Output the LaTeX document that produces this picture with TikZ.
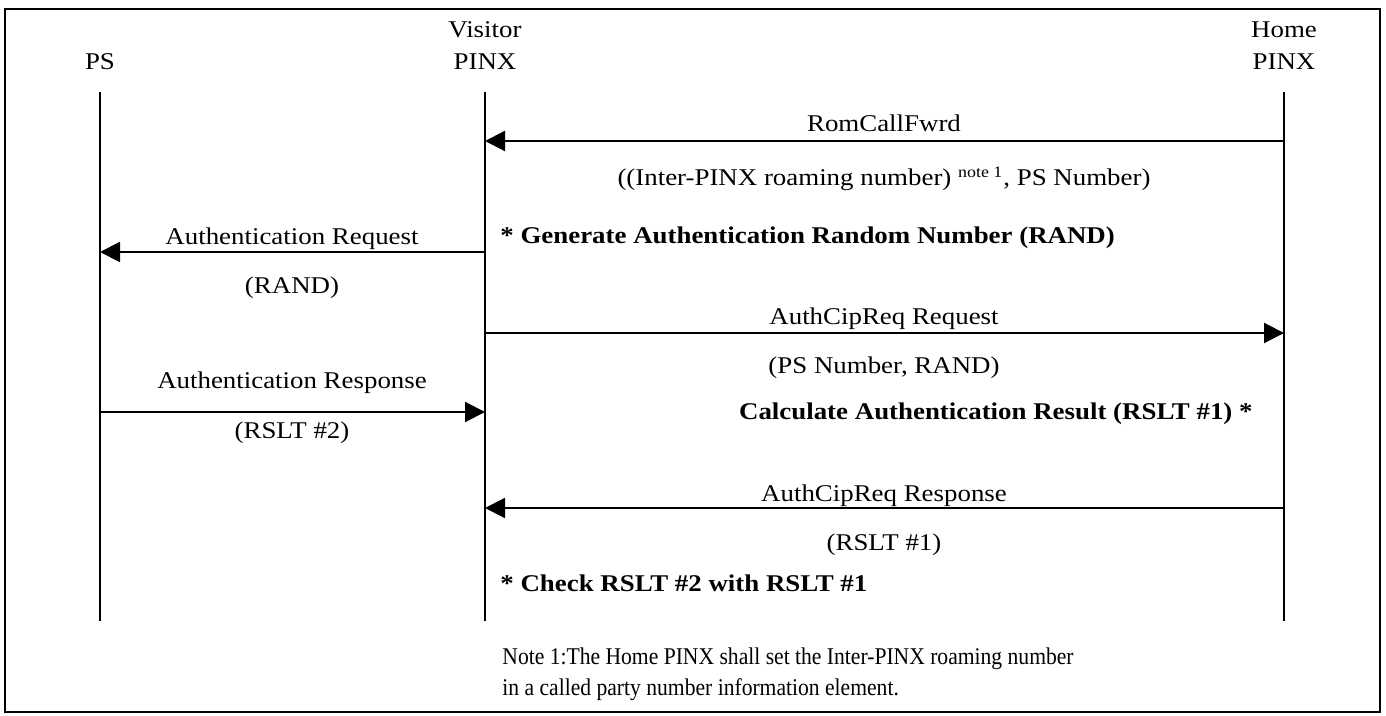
\documentclass[tikz,border=0pt]{standalone}
\usepackage{fontspec}
\setmainfont{Liberation Serif}[FakeStretch=1.12]
\newfontfamily\notefont{Liberation Serif}[FakeStretch=0.9]
\usetikzlibrary{arrows.meta}
\tikzset{
  lifeline/.style={line width=1.1pt},
  msg/.style={line width=1.1pt,-{Triangle[length=10pt,width=10pt]}},
  lbl/.style={inner sep=0pt,anchor=base},
  act/.style={inner sep=0pt,font=\fontsize{12}{14}\selectfont\bfseries},
  notetext/.style={inner sep=0pt,anchor=base west,font=\notefont\fontsize{12}{14}\selectfont},
}
\begin{document}
\begin{tikzpicture}[x=0.5pt,y=-0.5pt,font=\fontsize{12}{14}\selectfont]
  \useasboundingbox (0,0) rectangle (1386,716);
  \draw[line width=1.1pt] (5,9) rectangle (1380,712);
  % parties
  \node[lbl] (ps) at (100,70) {PS};
  \node[lbl] (vis-a) at (485,38) {Visitor};
  \node[lbl] (vis-b) at (485,70) {PINX};
  \node[lbl] (home-a) at (1284,38) {Home};
  \node[lbl] (home-b) at (1284,70) {PINX};
  \foreach \n/\x in {ps/100,vis/485,home/1284} {
    \coordinate (\n-top) at (\x,92);
    \coordinate (\n-bot) at (\x,621);
    \draw[lifeline] (\n-top) -- (\n-bot);
    \foreach \m/\y in {1/141,2/252,3/333,4/412,5/508}
      \coordinate (\n-\m) at (\x,\y);
  }
  % messages
  \draw[msg] (home-1) -- (vis-1);
  \draw[msg] (vis-2) -- (ps-2);
  \draw[msg] (vis-3) -- (home-3);
  \draw[msg] (ps-4) -- (vis-4);
  \draw[msg] (home-5) -- (vis-5);
  \node[lbl] (rcf) at (884,132) {RomCallFwrd};
  \node[lbl] (rcf-p) at (884,186)
    {((Inter-PINX roaming number) \textsuperscript{note 1}, PS Number)};
  \node[lbl] (areq) at (292,245) {Authentication Request};
  \node[lbl] (areq-p) at (292,294) {(RAND)};
  \node[lbl] (acreq) at (884,325) {AuthCipReq Request};
  \node[lbl] (acreq-p) at (884,373) {(PS Number, RAND)};
  \node[lbl] (ares) at (292,389) {Authentication Response};
  \node[lbl] (ares-p) at (292,438) {(RSLT \#2)};
  \node[lbl] (acres) at (884,501) {AuthCipReq Response};
  \node[lbl] (acres-p) at (884,550) {(RSLT \#1)};
  % actions
  \node[act,anchor=base west] (gen) at (500,244)
    {* Generate Authentication Random Number (RAND)};
  \node[act,anchor=base east] (calc) at (1253,420)
    {Calculate Authentication Result (RSLT \#1) *};
  \node[act,anchor=base west] (chk) at (500,591)
    {* Check RSLT \#2 with RSLT \#1};
  % note
  \node[notetext] (note-a) at (502,664)
    {Note 1:The Home PINX shall set the Inter-PINX roaming number};
  \node[notetext] (note-b) at (502,695)
    {in a called party number information element.};
\end{tikzpicture}
\end{document}
